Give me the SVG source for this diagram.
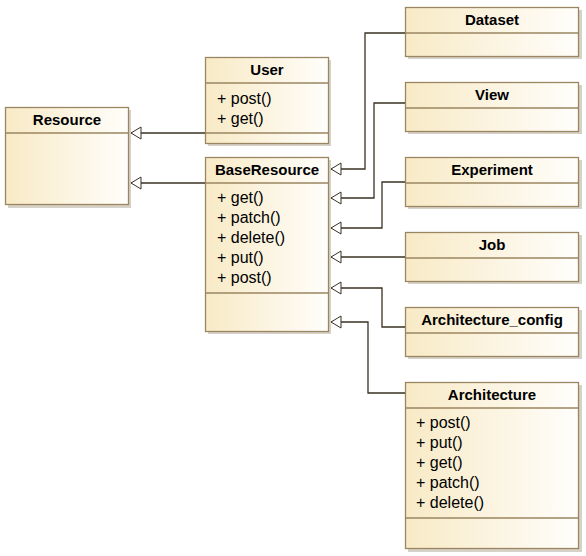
<svg xmlns="http://www.w3.org/2000/svg" width="586" height="556" viewBox="0 0 586 556">
<defs>
<linearGradient id="fillg" x1="0" y1="0" x2="1" y2="0">
<stop offset="0" stop-color="#f8eac6"/>
<stop offset="1" stop-color="#fffefb"/>
</linearGradient>
<marker id="tri" viewBox="0 0 12 14" refX="11" refY="7" markerWidth="12" markerHeight="14" markerUnits="userSpaceOnUse" orient="auto">
<path d="M1,1 L11,7 L1,13 Z" fill="#ffffff" stroke="#3a3022" stroke-width="1"/>
</marker>
</defs>
<style>
.box{fill:url(#fillg);stroke:#9a8660;stroke-width:1.3}
.shadow{fill:#d6d2c8}
.sep{stroke:#9a8660;stroke-width:1.3}
.title{font-family:"Liberation Sans",Arial,sans-serif;font-weight:bold;font-size:15px;fill:#000;text-anchor:middle}
.op{font-family:"Liberation Sans",Arial,sans-serif;font-size:16px;fill:#000}
.conn{fill:none;stroke:#3a3022;stroke-width:1.3}
</style>
<rect width="586" height="556" fill="#ffffff"/>

<g id="Resource">
<rect class="shadow" x="8" y="110" width="123" height="98"/>
<rect class="box" x="5.5" y="107.5" width="123" height="97"/>
<line class="sep" x1="5.5" y1="133" x2="128.5" y2="133"/>
<text class="title" x="67" y="125">Resource</text>
</g>

<g id="User">
<rect class="shadow" x="208" y="60" width="123" height="86"/>
<rect class="box" x="205.5" y="57.5" width="123" height="86"/>
<line class="sep" x1="205.5" y1="83" x2="328.5" y2="83"/>
<line class="sep" x1="205.5" y1="133" x2="328.5" y2="133"/>
<text class="title" x="267" y="75">User</text>
<text class="op" x="217" y="104">+ post()</text>
<text class="op" x="217" y="124">+ get()</text>
</g>

<g id="BaseResource">
<rect class="shadow" x="208" y="160" width="123" height="174"/>
<rect class="box" x="205.5" y="157.5" width="123" height="174"/>
<line class="sep" x1="205.5" y1="183" x2="328.5" y2="183"/>
<line class="sep" x1="205.5" y1="293" x2="328.5" y2="293"/>
<text class="title" x="267" y="175">BaseResource</text>
<text class="op" x="217" y="203">+ get()</text>
<text class="op" x="217" y="223">+ patch()</text>
<text class="op" x="217" y="243">+ delete()</text>
<text class="op" x="217" y="263">+ put()</text>
<text class="op" x="217" y="283">+ post()</text>
</g>

<g id="Dataset">
<rect class="shadow" x="408" y="10" width="174" height="49"/>
<rect class="box" x="405.5" y="7.5" width="173" height="49"/>
<line class="sep" x1="405.5" y1="33" x2="578.5" y2="33"/>
<text class="title" x="492" y="25">Dataset</text>
</g>

<g id="View">
<rect class="shadow" x="408" y="85" width="174" height="49"/>
<rect class="box" x="405.5" y="82.5" width="173" height="49"/>
<line class="sep" x1="405.5" y1="108" x2="578.5" y2="108"/>
<text class="title" x="492" y="100">View</text>
</g>

<g id="Experiment">
<rect class="shadow" x="408" y="160" width="174" height="49"/>
<rect class="box" x="405.5" y="157.5" width="173" height="49"/>
<line class="sep" x1="405.5" y1="183" x2="578.5" y2="183"/>
<text class="title" x="492" y="175">Experiment</text>
</g>

<g id="Job">
<rect class="shadow" x="408" y="235" width="174" height="49"/>
<rect class="box" x="405.5" y="232.5" width="173" height="49"/>
<line class="sep" x1="405.5" y1="258" x2="578.5" y2="258"/>
<text class="title" x="492" y="250">Job</text>
</g>

<g id="Architecture_config">
<rect class="shadow" x="408" y="310" width="174" height="49"/>
<rect class="box" x="405.5" y="307.5" width="173" height="49"/>
<line class="sep" x1="405.5" y1="333" x2="578.5" y2="333"/>
<text class="title" x="492" y="325">Architecture_config</text>
</g>

<g id="Architecture">
<rect class="shadow" x="408" y="385" width="174" height="167"/>
<rect class="box" x="405.5" y="382.5" width="173" height="166"/>
<line class="sep" x1="405.5" y1="408" x2="578.5" y2="408"/>
<line class="sep" x1="405.5" y1="518" x2="578.5" y2="518"/>
<text class="title" x="492" y="400">Architecture</text>
<text class="op" x="416" y="428">+ post()</text>
<text class="op" x="416" y="448">+ put()</text>
<text class="op" x="416" y="468">+ get()</text>
<text class="op" x="416" y="488">+ patch()</text>
<text class="op" x="416" y="508">+ delete()</text>
</g>

<g id="connectors">
<path class="conn" d="M205,133 H131" marker-end="url(#tri)"/>
<path class="conn" d="M205,183 H131" marker-end="url(#tri)"/>
<path class="conn" d="M405,33 H365 V169 H331" marker-end="url(#tri)"/>
<path class="conn" d="M405,103 H374 V198 H331" marker-end="url(#tri)"/>
<path class="conn" d="M405,182 H382 V228 H331" marker-end="url(#tri)"/>
<path class="conn" d="M405,257 H331" marker-end="url(#tri)"/>
<path class="conn" d="M405,327 H382 V288 H331" marker-end="url(#tri)"/>
<path class="conn" d="M405,393 H368 V322 H331" marker-end="url(#tri)"/>
</g>
</svg>
